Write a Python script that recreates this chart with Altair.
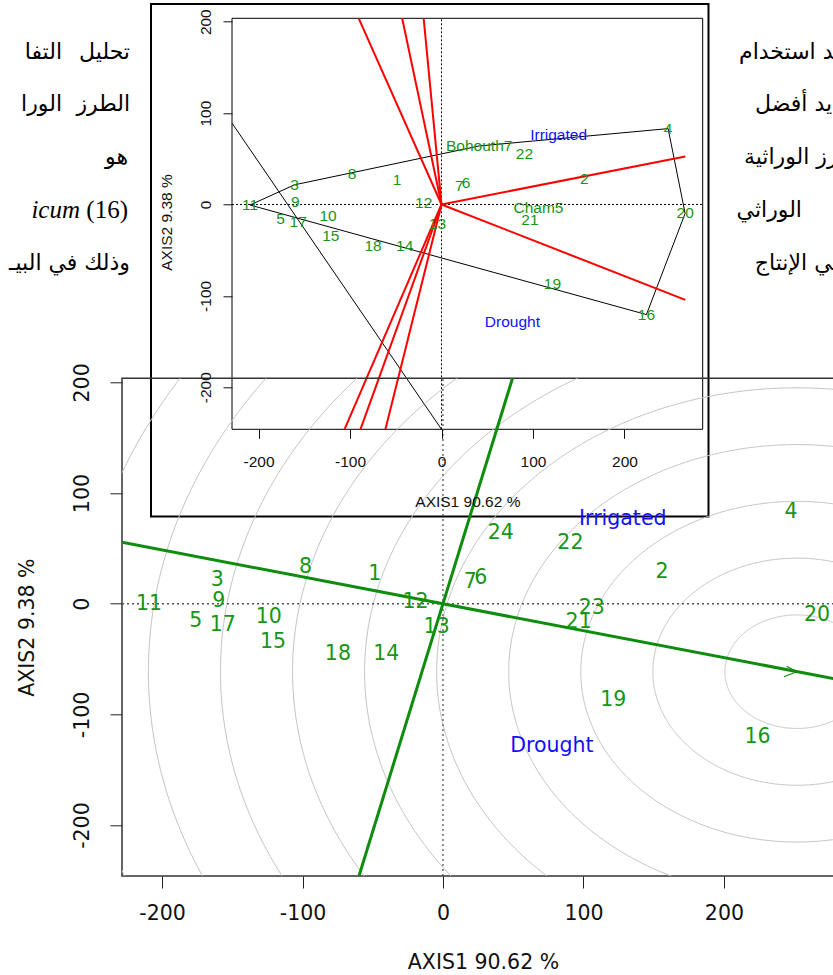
import numpy as np
import pandas as pd
import altair as alt

# ---------------------------------------------------------------------------
# Genotype scores on the first two GGE axes
# ---------------------------------------------------------------------------
GENOTYPES = ["1", "2", "3", "4", "5", "6", "7", "8", "9", "10", "11", "12",
             "13", "14", "15", "16", "17", "18", "19", "20", "21", "22", "23", "24"]
# names used in the polygon view (23 = Cham5, 24 = Bohouth7)
POLY_NAMES = ["1", "2", "3", "4", "5", "6", "7", "8", "9", "10", "11", "12",
              "13", "14", "15", "16", "17", "18", "19", "20", "21", "22", "Cham5", "Bohouth7"]
PC1 = [-48.5, 156.0, -160.7, 247.7, -176.0, 26.9, 19.5, -97.8, -159.7, -124.0, -209.3, -19.5,
       -4.5, -40.3, -121.0, 224.0, -156.7, -74.8, 121.3, 266.3, 96.6, 90.7, 106.0, 41.2]
PC2 = [26.5, 28.3, 21.5, 83.0, -15.5, 23.4, 19.9, 33.6, 2.5, -12.2, -0.6, 1.2,
       -21.3, -45.7, -34.5, -120.5, -18.8, -45.7, -86.8, -9.8, -16.7, 55.0, -4.2, 64.0]

ENVIRONMENTS = ["Irrigated", "Drought"]
ENV_PC1 = [128.0, 77.5]
ENV_PC2 = [76.5, -128.8]

# polygon (which-won-where) vertices
HULL = ["11", "3", "24", "4", "20", "16", "11"]
# sector rays from the origin
RAY_END_X = [-90.5, -43.0, -19.5, -106.0, -88.6, -61.3, 266.5, 266.5]
RAY_END_Y = [203.7, 203.7, 203.7, -246.0, -246.0, -246.0, 52.5, -104.4]
# extra black segment in the polygon view
SEG_X = [-229.0, 0.0]
SEG_Y = [89.0, -246.0]

# average-environment coordinate (AEC) axes
AEC_X = [-228.5, 290.0]
AEC_Y = [55.5, -70.5]
ORD_X = [-59.8, 49.5]
ORD_Y = [-246.0, 203.7]
ARROW_X = [244.6, 251.9, 242.7]
ARROW_Y = [-56.4, -61.4, -66.0]
# concentric rings around the ideal genotype
IDEAL_X, IDEAL_Y = 252.0, -61.4
RING_RADII = [51.3, 102.6, 153.9, 205.2, 256.5, 307.8, 359.1, 410.4, 461.7, 513.0, 564.3, 615.6]

# ---------------------------------------------------------------------------
# page layout (pixels)
# ---------------------------------------------------------------------------
LEFT, TOP, BOTTOM = 122, 378.3, 876
W, H = 833 - LEFT, BOTTOM - TOP

GREEN_TXT = "#169616"
GREEN_LINE = "#0e8c0e"
SANS_MAIN = "DejaVu Sans"
SANS_INSET = "Liberation Sans"


def px(x):
    return x - LEFT


def py(y):
    return y - TOP


geno = pd.DataFrame({"g": GENOTYPES, "name": POLY_NAMES, "x": PC1, "y": PC2})
env = pd.DataFrame({"name": ENVIRONMENTS, "x": ENV_PC1, "y": ENV_PC2})
pos = geno.set_index("g")
hull = pd.DataFrame({"i": range(len(HULL)),
                     "x": [pos.loc[g, "x"] for g in HULL],
                     "y": [pos.loc[g, "y"] for g in HULL]})
rays = pd.DataFrame({"ray": np.repeat(range(len(RAY_END_X)), 2),
                     "i": [0, 1] * len(RAY_END_X),
                     "x": [v for e in RAY_END_X for v in (0.0, e)],
                     "y": [v for e in RAY_END_Y for v in (0.0, e)]})
seg = pd.DataFrame({"x": SEG_X, "y": SEG_Y})

t = np.linspace(0, 2 * np.pi, 721)
rings = pd.DataFrame({
    "r": np.repeat(RING_RADII, len(t)),
    "i": np.tile(np.arange(len(t)), len(RING_RADII)),
    "x": np.concatenate([IDEAL_X + r * np.cos(t) for r in RING_RADII]),
    "y": np.concatenate([IDEAL_Y + r * np.sin(t) for r in RING_RADII]),
})
aec = pd.DataFrame({"k": ["a", "a", "o", "o"], "i": [0, 1, 0, 1],
                    "x": AEC_X + ORD_X, "y": AEC_Y + ORD_Y})
arrow = pd.DataFrame({"i": [0, 1, 2], "x": ARROW_X, "y": ARROW_Y})

# ---------------------------------------------------------------------------
# scales and axes
# ---------------------------------------------------------------------------
X_DOM = [-228.5, -228.5 + W / 1.4047]
Y_DOM = [-246.0, 203.7]
IX_DOM = [-229.0, 285.5]

MX_SCALE = alt.Scale(domain=X_DOM, nice=False, zero=False)
MY_SCALE = alt.Scale(domain=Y_DOM, nice=False, zero=False)
IX_SCALE = alt.Scale(domain=IX_DOM, range=[px(232), px(702.7)], nice=False, zero=False)
IY_SCALE = alt.Scale(domain=Y_DOM, range=[py(429.3), py(18.3)], nice=False, zero=False)

TICKS = [-200, -100, 0, 100, 200]

MX_AXIS = alt.Axis(title="AXIS1 90.62 %", orient="bottom", values=TICKS, domain=False, grid=False,
                   tickSize=12, tickColor="#222", labelExpr="toString(datum.value)",
                   labelFont=SANS_MAIN, labelFontSize=20.5, labelColor="#111", labelPadding=15,
                   labelFlush=False, labelOverlap=False,
                   titleFont=SANS_MAIN, titleFontSize=20.5, titleFontWeight="normal", titleColor="#111",
                   titleBaseline="alphabetic", titleAlign="center", titleX=361, titleY=92, zindex=0)
MY_AXIS = alt.Axis(title="AXIS2 9.38 %", orient="left", values=TICKS, domain=False, grid=False,
                   tickSize=12, tickColor="#222", labelExpr="toString(datum.value)",
                   labelFont=SANS_MAIN, labelFontSize=20.5, labelColor="#111", labelPadding=22,
                   labelAngle=270, labelAlign="center", labelBaseline="alphabetic",
                   labelFlush=False, labelOverlap=False,
                   titleFont=SANS_MAIN, titleFontSize=20.5, titleFontWeight="normal", titleColor="#111",
                   titleAngle=270, titleBaseline="alphabetic", titleAlign="center",
                   titleX=-89, titleY=H / 2, zindex=0)
IX_AXIS = alt.Axis(title="AXIS1 90.62 %", orient="bottom", offset=py(429.3) - H, values=TICKS,
                   domain=False, grid=False, tickSize=9, tickColor="#111",
                   labelExpr="toString(datum.value)",
                   labelFont=SANS_INSET, labelFontSize=15.5, labelColor="#111", labelPadding=16,
                   labelFlush=False, labelOverlap=False,
                   titleFont=SANS_INSET, titleFontSize=15.5, titleFontWeight="normal", titleColor="#111",
                   titleBaseline="alphabetic", titleAlign="center", titleY=77.4, zindex=1)
IY_AXIS = alt.Axis(title="AXIS2 9.38 %", orient="left", offset=-px(232), values=TICKS,
                   domain=False, grid=False, tickSize=9, tickColor="#111",
                   labelExpr="toString(datum.value)",
                   labelFont=SANS_INSET, labelFontSize=15.5, labelColor="#111", labelPadding=13,
                   labelAngle=270, labelAlign="center", labelBaseline="alphabetic",
                   labelFlush=False, labelOverlap=False,
                   titleFont=SANS_INSET, titleFontSize=15.5, titleFontWeight="normal", titleColor="#111",
                   titleAngle=270, titleBaseline="alphabetic", titleAlign="center",
                   titleX=-60.6, titleY=py(222), zindex=1)


def mx(f="x"):
    return alt.X(f, type="quantitative", scale=MX_SCALE, axis=MX_AXIS)


def my(f="y"):
    return alt.Y(f, type="quantitative", scale=MY_SCALE, axis=MY_AXIS)


def ix(f="x"):
    return alt.X(f, type="quantitative", scale=IX_SCALE, axis=IX_AXIS)


def iy(f="y"):
    return alt.Y(f, type="quantitative", scale=IY_SCALE, axis=IY_AXIS)


# ---------------------------------------------------------------------------
# surrounding paragraph (Arabic text around the figure); the right-hand
# lines run past the page edge and are cut by it
# ---------------------------------------------------------------------------
AR_FONT = "DejaVu Sans"
AR_SIZE = 22
PARAGRAPH = [
    # text, right edge x, centre y, font, size, style
    ("تحليل", 130, 52, AR_FONT, AR_SIZE, "normal"),
    ("التفا", 62, 52, AR_FONT, AR_SIZE, "normal"),
    ("الطرز", 130, 104, AR_FONT, AR_SIZE, "normal"),
    ("الورا", 62, 104, AR_FONT, AR_SIZE, "normal"),
    ("هو", 128, 157, AR_FONT, AR_SIZE, "normal"),
    ("(16)", 128, 210, "Liberation Serif", 25, "normal"),
    ("icum", 80, 210, "Liberation Serif", 25, "italic"),
    ("وذلك في البيـ", 130, 263, AR_FONT, AR_SIZE, "normal"),
    ("بعد استخدام", 851, 52, AR_FONT, AR_SIZE, "normal"),
    ("تحديد أفضل", 864, 104, AR_FONT, AR_SIZE, "normal"),
    ("الطرز الوراثية", 870, 157, AR_FONT, AR_SIZE, "normal"),
    ("الوراثي", 802, 210, AR_FONT, AR_SIZE, "normal"),
    ("في الإنتاج", 843, 263, AR_FONT, AR_SIZE, "normal"),
]

one = pd.DataFrame({"k": [0]})
para_layers = [
    alt.Chart(one).mark_text(text=txt, align="right", baseline="middle", font=fnt,
                             fontSize=size, fontStyle=style, color="#000")
    .encode(x=alt.value(px(xr)), y=alt.value(py(yc)))
    for txt, xr, yc, fnt, size, style in PARAGRAPH
]

# white panel holding the polygon view
panel = alt.Chart(one).mark_rect(fill="white", stroke="black", strokeWidth=2).encode(
    x=alt.value(px(151)), x2=alt.value(px(708.5)), y=alt.value(py(4)), y2=alt.value(py(516.5)))

# ---------------------------------------------------------------------------
# polygon view
# ---------------------------------------------------------------------------
iframe = alt.Chart(pd.DataFrame({"x1": [IX_DOM[0]], "x2": [IX_DOM[1]],
                                 "y1": [Y_DOM[0]], "y2": [Y_DOM[1]]})).mark_rect(
    fillOpacity=0, stroke="black", strokeWidth=1).encode(
    x=ix("x1"), x2="x2", y=iy("y1"), y2="y2")

idot_h = alt.Chart(pd.DataFrame({"x": IX_DOM, "y": [0, 0]})).mark_line(
    color="black", strokeWidth=1, strokeDash=[2, 2]).encode(x=ix(), y=iy())
idot_v = alt.Chart(pd.DataFrame({"x": [0, 0], "y": Y_DOM})).mark_line(
    color="black", strokeWidth=1, strokeDash=[2, 2]).encode(x=ix(), y=iy())

ihull = alt.Chart(hull).mark_line(color="black", strokeWidth=1).encode(
    x=ix(), y=iy(), order="i:Q")
iseg = alt.Chart(seg).mark_line(color="black", strokeWidth=1).encode(x=ix(), y=iy())
irays = alt.Chart(rays).mark_line(color="#ff0000", strokeWidth=2).encode(
    x=ix(), y=iy(), detail="ray:N", order="i:Q")

ilab = alt.Chart(geno).mark_text(font=SANS_INSET, fontSize=15.5, color=GREEN_TXT,
                                 baseline="middle").encode(x=ix(), y=iy(), text="name:N")
ienv = alt.Chart(env).mark_text(font=SANS_INSET, fontSize=15.5, color="#1010ff",
                                baseline="middle").encode(x=ix(), y=iy(), text="name:N")

inset = alt.layer(iframe, idot_h, idot_v, ihull, iseg, irays, ilab, ienv)

# ---------------------------------------------------------------------------
# ranking view (AEC with concentric rings)
# ---------------------------------------------------------------------------
mframe = alt.Chart(pd.DataFrame({"x1": [-228.5], "x2": [285.5],
                                 "y1": [Y_DOM[0]], "y2": [Y_DOM[1]]})).mark_rect(
    fillOpacity=0, stroke="#333", strokeWidth=1.5).encode(
    x=mx("x1"), x2="x2", y=my("y1"), y2="y2")

mrings = alt.Chart(rings).mark_line(color="#c4c4c4", strokeWidth=1, clip=True).encode(
    x=mx(), y=my(), detail="r:N", order="i:Q")

mdot_h = alt.Chart(pd.DataFrame({"x": [-228.5, 285.5], "y": [0, 0]})).mark_line(
    color="#555", strokeWidth=1.3, strokeDash=[2, 3], clip=True).encode(x=mx(), y=my())
mdot_v = alt.Chart(pd.DataFrame({"x": [0, 0], "y": Y_DOM})).mark_line(
    color="#555", strokeWidth=1.3, strokeDash=[2, 3], clip=True).encode(x=mx(), y=my())

maec = alt.Chart(aec).mark_line(color=GREEN_LINE, strokeWidth=3, clip=True).encode(
    x=mx(), y=my(), detail="k:N", order="i:Q")
marrow = alt.Chart(arrow).mark_line(color=GREEN_LINE, strokeWidth=1.2, clip=True).encode(
    x=mx(), y=my(), order="i:Q")

mlab = alt.Chart(geno).mark_text(font=SANS_MAIN, fontSize=20.5, color=GREEN_TXT,
                                 baseline="middle").encode(x=mx(), y=my(), text="g:N")
menv = alt.Chart(env).mark_text(font=SANS_MAIN, fontSize=20.5, color="#1010ff",
                                baseline="middle").encode(x=mx(), y=my(), text="name:N")

ranking = alt.layer(mframe, mrings, mdot_h, mdot_v, maec, marrow, mlab, menv)

chart = alt.layer(*para_layers, panel, inset, ranking).resolve_scale(
    x="independent", y="independent"
).properties(
    width=W, height=H, autosize="none",
    padding={"left": LEFT, "top": TOP, "right": 0, "bottom": 975 - BOTTOM},
    background="white",
).configure_view(stroke=None)

chart.save("out.html", embed_options={"renderer": "svg", "actions": False})
